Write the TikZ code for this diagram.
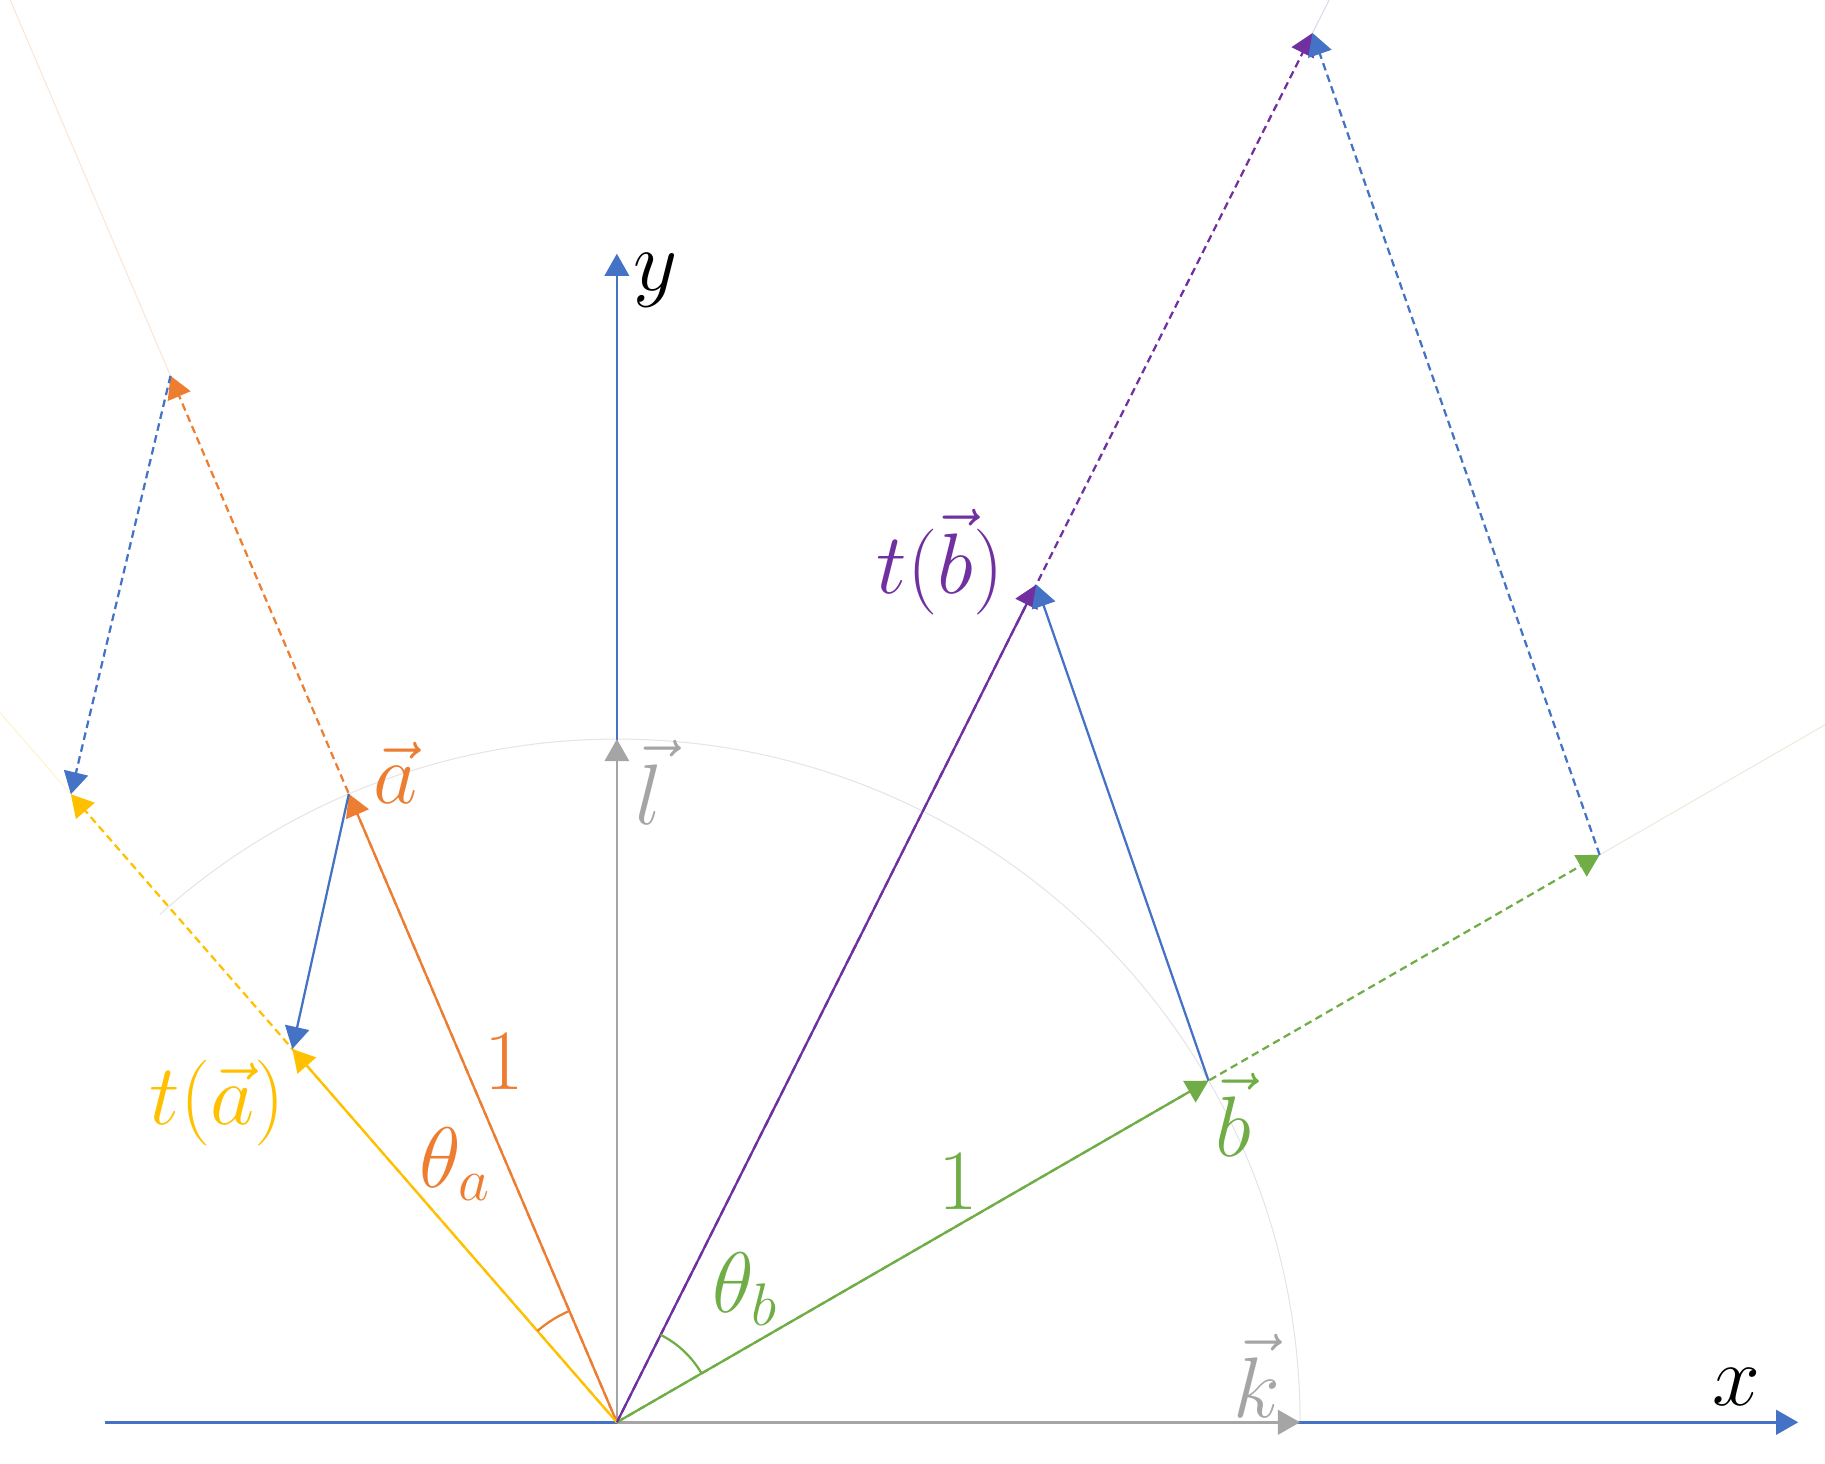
\RequirePackage{fix-cm}
\documentclass[tikz,border=0pt]{standalone}
\usepackage{amsmath}
\usetikzlibrary{arrows.meta, positioning}
\definecolor{offblue}{RGB}{68,114,196}
\definecolor{offorange}{RGB}{237,125,49}
\definecolor{offgray}{RGB}{165,165,165}
\definecolor{offyellow}{RGB}{255,192,0}
\definecolor{offgreen}{RGB}{112,173,71}
\definecolor{offpurple}{RGB}{112,48,160}

\begin{document}
\begin{tikzpicture}[line width=1.1pt,
                    vec/.style= {-{Triangle[length=0.38cm, width=0.42cm]}},
                    proj/.style= {vec,
                      dash pattern=on 0.13cm off 0.08cm},
                    ghost/.style= {line width=0.5pt,
                      opacity=0.2},
                    lbl/.style= {inner sep=0pt,
                      font=\fontsize{42}{48}\selectfont}]

  \path[use as bounding box] (-10.6,-0.7) rectangle (20.76,24.44);
  \clip (-10.6,-0.7) rectangle (20.76,24.44);

  % points
  \coordinate (O) at (0,0);
  \coordinate (X0) at (-8.8,0);
  \coordinate (X) at (20.3,0);
  \coordinate (Y) at (0,20.08);
  \coordinate (K) at (0:11.74);
  \coordinate (L) at (90:11.74);
  \coordinate (A) at (113.1:11.74);
  \coordinate (SA) at (113.1:19.55);
  \coordinate (TA) at (131:8.5);
  \coordinate (STA) at (131:14.3);
  \coordinate (B) at (30:11.74);
  \coordinate (SB) at (30:19.5);
  \coordinate (TB) at (63.4:16.1);
  \coordinate (STB) at (63.4:26.7);

  % faint extensions
  \draw[ghost, offorange] (SA) -- (113.1:28);
  \draw[ghost, offyellow] (STA) -- (131:18);
  \draw[ghost, offgreen] (SB) -- (30:26);
  \draw[ghost, offpurple] (STB) -- (63.4:29);
  \draw[offgray!30, line width=0.5pt] (K) arc[start angle=0, end angle=132, radius=11.74];

  % axes
  \draw[vec, offblue, line width=1.4pt] (X0) -- (X);
  \draw[vec, offblue] (O) -- (Y);
  \draw[vec, offgray, line width=1.4pt] (O) -- (K);
  \draw[vec, offgray] (O) -- (L);

  % scaled vectors
  \draw[proj, offorange] (O) -- (SA);
  \draw[proj, offyellow] (O) -- (STA);
  \draw[proj, offblue] (SA) -- (STA);
  \draw[proj, offgreen] (O) -- (SB);
  \draw[proj, offpurple] (O) -- (STB);
  \draw[proj, offblue] (SB) -- (STB);

  % unit vectors and images
  \draw[vec, offorange] (O) -- (A);
  \draw[vec, offyellow] (O) -- (TA);
  \draw[vec, offblue] (A) -- (TA);
  \draw[vec, offgreen] (O) -- (B);
  \draw[vec, offpurple] (O) -- (TB);
  \draw[vec, offblue] (B) -- (TB);

  % angles
  \draw[offorange] (113.1:2.08) arc[start angle=113.1, end angle=131, radius=2.08];
  \draw[offgreen] (30:1.68) arc[start angle=30, end angle=63.4, radius=1.68];

  % labels
  \node[lbl] (ylab) at (0.66,19.62) {$y$};
  \node[lbl] (xlab) at (19.24,0.6) {$x$};
  \node[lbl, offgray] (llab) at (0.56,11.0) {$\vec{l}$};
  \node[lbl, offgray] (klab) at (11.0,0.8) {$\vec{k}$};
  \node[lbl, offorange] (alab) at (-3.8,11.16) {$\vec{a}$};
  \node[lbl, offorange] (onea) at (-1.94,6.2) {$1$};
  \node[lbl, offorange] (tha) at (-2.78,4.44) {$\theta_a$};
  \node[lbl, offyellow] (talab) at (-6.86,5.48) {$t(\vec{a})$};
  \node[lbl, offpurple] (tblab) at (5.56,14.78) {$t(\vec{b})$};
  \node[lbl, offgreen] (blab) at (10.6,5.28) {$\vec{b}$};
  \node[lbl, offgreen] (oneb) at (5.86,4.14) {$1$};
  \node[lbl, offgreen] (thb) at (2.2,2.28) {$\theta_b$};
\end{tikzpicture}
\end{document}
